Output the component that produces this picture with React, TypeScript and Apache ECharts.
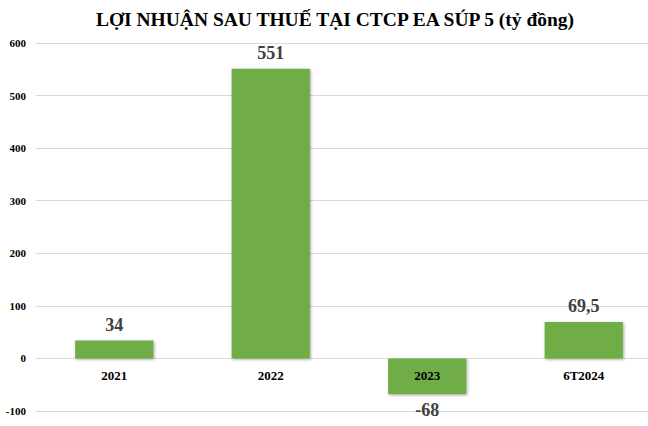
import React, { useEffect, useRef } from "react";
import * as echarts from "echarts";

const categories = ["2021", "2022", "2023", "6T2024"];
const profitValues = [34, 551, -68, 69.5];
const titleText = "LỢI NHUẬN SAU THUẾ TẠI CTCP EA SÚP 5 (tỷ đồng)";

const FONT = "Liberation Serif";

export default function App() {
  const ref = useRef<HTMLDivElement>(null);
  useEffect(() => {
    if (!ref.current) return;
    const chart = echarts.init(ref.current, null, { renderer: "svg" });
    chart.setOption({
      animation: false,
      backgroundColor: "#ffffff",
      textStyle: { fontFamily: FONT },
      title: {
        text: titleText,
        left: 330,
        textAlign: "center",
        top: 4,
        textStyle: { fontFamily: FONT, fontWeight: "bold", fontSize: 19.5, color: "#000" },
      },
      grid: { left: 36, top: 43, bottom: 15, width: 626, containLabel: false, outerBoundsMode: "none" },
      xAxis: {
        type: "category",
        data: categories,
        z: 10,
        offset: -52,
        axisLine: { show: false, onZero: false },
        axisTick: { show: false },
        axisLabel: {
          fontFamily: FONT,
          fontWeight: "bold",
          fontSize: 13,
          color: "#000",
          margin: 10,
        },
      },
      yAxis: {
        type: "value",
        min: -100,
        max: 600,
        interval: 100,
        axisLine: { show: false },
        axisTick: { show: false },
        splitLine: { lineStyle: { color: "#d9d9d9", width: 1 } },
        axisLabel: {
          fontFamily: FONT,
          fontWeight: "bold",
          fontSize: 11,
          color: "#000",
          margin: 10,
        },
      },
      series: [
        {
          type: "bar",
          barWidth: "50%",
          data: profitValues.map((v) => ({
            value: v,
            label: { position: v < 0 ? "bottom" : "top" },
          })),
          itemStyle: {
            color: "#70AD47",
            shadowBlur: 3,
            shadowColor: "rgba(0,0,0,0.35)",
            shadowOffsetX: 1,
            shadowOffsetY: 1,
          },
          label: {
            show: true,
            fontFamily: FONT,
            fontWeight: "bold",
            fontSize: 18,
            color: "#404040",
            distance: 7,
            formatter: (p: any) => String(p.value).replace(".", ","),
          },
        },
      ],
    });
    return () => chart.dispose();
  }, []);
  return <div ref={ref} style={{ width: 648, height: 426, position: "absolute", left: 0, top: 0 }} />;
}
